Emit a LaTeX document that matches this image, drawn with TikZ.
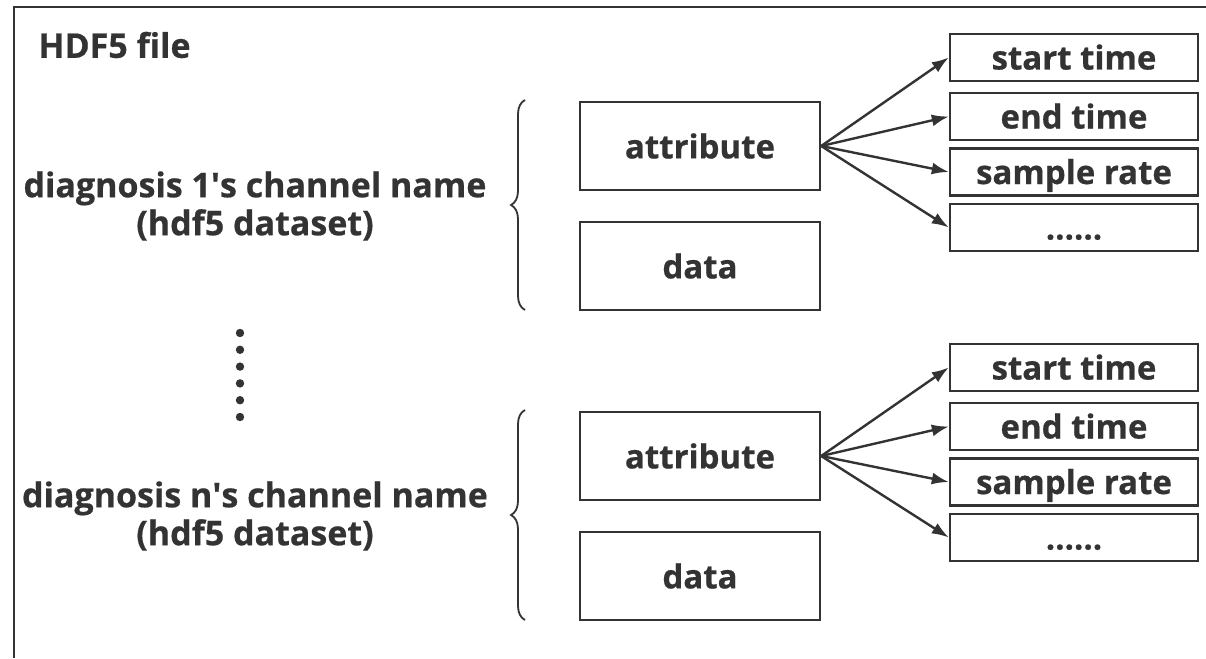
\documentclass[tikz,border=0pt]{standalone}
\usepackage{fontspec}
\setmainfont{Open Sans}[BoldFeatures={FakeBold=0.6}]
\usepackage{xcolor}
\usepackage{tikz}
\usetikzlibrary{arrows.meta,decorations.pathreplacing}
\definecolor{ink}{HTML}{333333}

\begin{document}
\begin{tikzpicture}[x=1pt,y=-1pt,ink,line width=2.4pt,
  textbox/.style={font=\fontsize{33}{38}\selectfont\bfseries, draw, minimum width=240, minimum height=88, inner sep=0, align=center},
  attrbox/.style={font=\fontsize{33}{38}\selectfont\bfseries, draw, minimum width=248, minimum height=47, inner sep=0, text height=24, text depth=0, align=center},
  label/.style={font=\fontsize{34}{38}\selectfont\bfseries, align=center}]
\useasboundingbox (0,0) rectangle (1206,658);
%file frame
\draw (1206,7) -- (14,7) -- (14,658);
\node[label, anchor=west] (file) at (34,45) {HDF5 file};
% first dataset
\node[label] (ds1) at (255,206) {diagnosis 1\textquotesingle s channel name\\(hdf5 dataset)};
\node[textbox] (attr1) at (700,146) {attribute};
\node[textbox] (data1) at (700,266) {data};
\node[attrbox] (st1) at (1074,57.5) {start time};
\node[attrbox] (et1) at (1074,116.5) {end time};
\node[attrbox] (sr1) at (1074,172) {sample rate};
\node[attrbox] (mo1) at (1074,227.5) {......};
\draw [line width=1.8pt, decorate,decoration={brace,amplitude=14}] (525,310) -- (525,100);
\draw [-{Latex[length=17,width=12]}] (attr1.east) -- (st1.west);
\draw [-{Latex[length=17,width=12]}] (attr1.east) -- (et1.west);
\draw [-{Latex[length=17,width=12]}] (attr1.east) -- (sr1.west);
\draw [-{Latex[length=17,width=12]}] (attr1.east) -- (mo1.west);
% vertical ellipsis
\foreach \i in {0,...,5}
  \fill (240,333+\i*16.8) circle (4.2);
% n-th dataset
\node[label] (dsn) at (255,516) {diagnosis n\textquotesingle s channel name\\(hdf5 dataset)};
\node[textbox] (attrn) at (700,456) {attribute};
\node[textbox] (datan) at (700,576) {data};
\node[attrbox] (stn) at (1074,367.5) {start time};
\node[attrbox] (etn) at (1074,426.5) {end time};
\node[attrbox] (srn) at (1074,482) {sample rate};
\node[attrbox] (mon) at (1074,537.5) {......};
\draw [line width=1.8pt, decorate,decoration={brace,amplitude=14}] (525,620) -- (525,410);
\draw [-{Latex[length=17,width=12]}] (attrn.east) -- (stn.west);
\draw [-{Latex[length=17,width=12]}] (attrn.east) -- (etn.west);
\draw [-{Latex[length=17,width=12]}] (attrn.east) -- (srn.west);
\draw [-{Latex[length=17,width=12]}] (attrn.east) -- (mon.west);
\end{tikzpicture}
\end{document}
